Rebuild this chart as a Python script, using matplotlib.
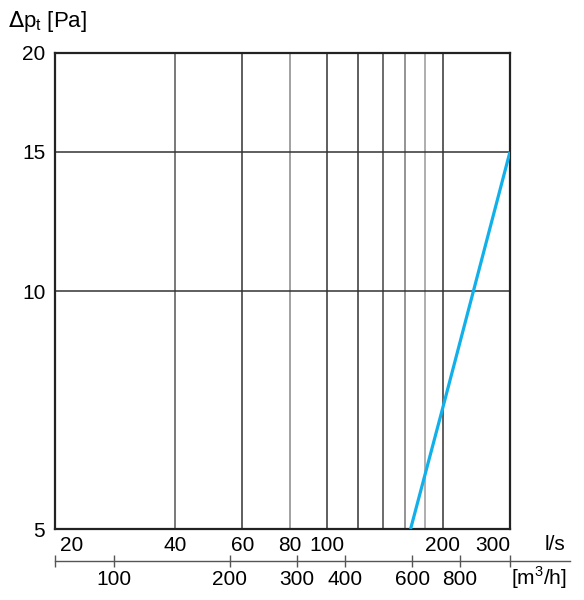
import numpy as np
import matplotlib
matplotlib.use("Agg")
import matplotlib.pyplot as plt
from matplotlib.ticker import NullLocator, FixedLocator, NullFormatter

plt.rcParams['font.family'] = ['Liberation Sans', 'DejaVu Sans']

# data
flow_ls = [165, 200, 300]          # l/s
dp_pa = [5.0, 7.1, 15.0]           # Pa

grid_x = [40, 60, 80, 100, 120, 140, 160, 180, 200]
grid_y = [10, 15]
x_ticks = [20, 40, 60, 80, 100, 200, 300]
y_ticks = [5, 10, 15, 20]
m3h_ticks = [100, 200, 300, 400, 600, 800]

grid_x_col = ['#555555', '#333333', '#888888', '#333333', '#333333',
              '#444444', '#777777', '#999999', '#333333']

W, H = 584, 600
fig = plt.figure(figsize=(W / 100, H / 100), dpi=100)

x0, x1, ytop, ybot = 55, 510, 53, 529
ax = fig.add_axes([x0 / W, 1 - ybot / H, (x1 - x0) / W, (ybot - ytop) / H])
ax.set_xscale('log')
ax.set_yscale('log')
xmin, xmax = 19.45, 300
ax.set_xlim(xmin, xmax)
ax.set_ylim(5, 20)

for gx, c in zip(grid_x, grid_x_col):
    ax.axvline(gx, color=c, lw=1.1, zorder=1)
for gy in grid_y:
    ax.axhline(gy, color='#333333', lw=1.1, zorder=1)

ax.plot(flow_ls, dp_pa, color='#12b0ea', lw=2.3, zorder=3, solid_capstyle='butt')

for s in ax.spines.values():
    s.set_linewidth(1.6)
    s.set_color('#222222')

ax.xaxis.set_minor_locator(NullLocator())
ax.yaxis.set_minor_locator(NullLocator())
ax.set_xticks(x_ticks)
ax.set_xticklabels([str(v) for v in x_ticks])
ax.set_yticks(y_ticks)
ax.set_yticklabels([str(v) for v in y_ticks])
ax.tick_params(axis='both', length=0, labelsize=15)
ax.tick_params(axis='x', pad=5)
ax.tick_params(axis='y', pad=7)
xl = ax.get_xticklabels()
xl[0].set_horizontalalignment('left')
xl[-1].set_horizontalalignment('right')

fig.text(565 / W, 1 - 545 / H, 'l/s', fontsize=15, ha='right', va='center')
fig.text(8 / W, 1 - 22 / H, r'$\Delta$p$_\mathregular{t}$ [Pa]', fontsize=16,
         ha='left', va='center')

# second flow scale in m3/h
xe = 570
ax2 = fig.add_axes([x0 / W, 1 - 561 / H, (xe - x0) / W, 0.0001])
ax2.set_xscale('log')
ax2.set_xlim(xmin * 3.6, xmin * 3.6 * 10 ** ((xe - x0) / (x1 - x0) * np.log10(xmax / xmin)))
ax2.set_yticks([])
for k in ['top', 'left', 'right']:
    ax2.spines[k].set_visible(False)
ax2.spines['bottom'].set_color('#555555')
ax2.spines['bottom'].set_linewidth(1.0)
ax2.xaxis.set_minor_locator(FixedLocator([xmin * 3.6 * 1.001, 1080]))
ax2.xaxis.set_minor_formatter(NullFormatter())
ax2.set_xticks(m3h_ticks)
ax2.set_xticklabels([str(v) for v in m3h_ticks])
ax2.tick_params(axis='x', which='both', direction='inout', length=9, width=1.0,
                color='#555555', labelsize=15, pad=2)
fig.text(567 / W, 1 - 578 / H, '[m$^\mathregular{3}$/h]', fontsize=15,
         ha='right', va='center')

fig.savefig('out.png', dpi=100)
